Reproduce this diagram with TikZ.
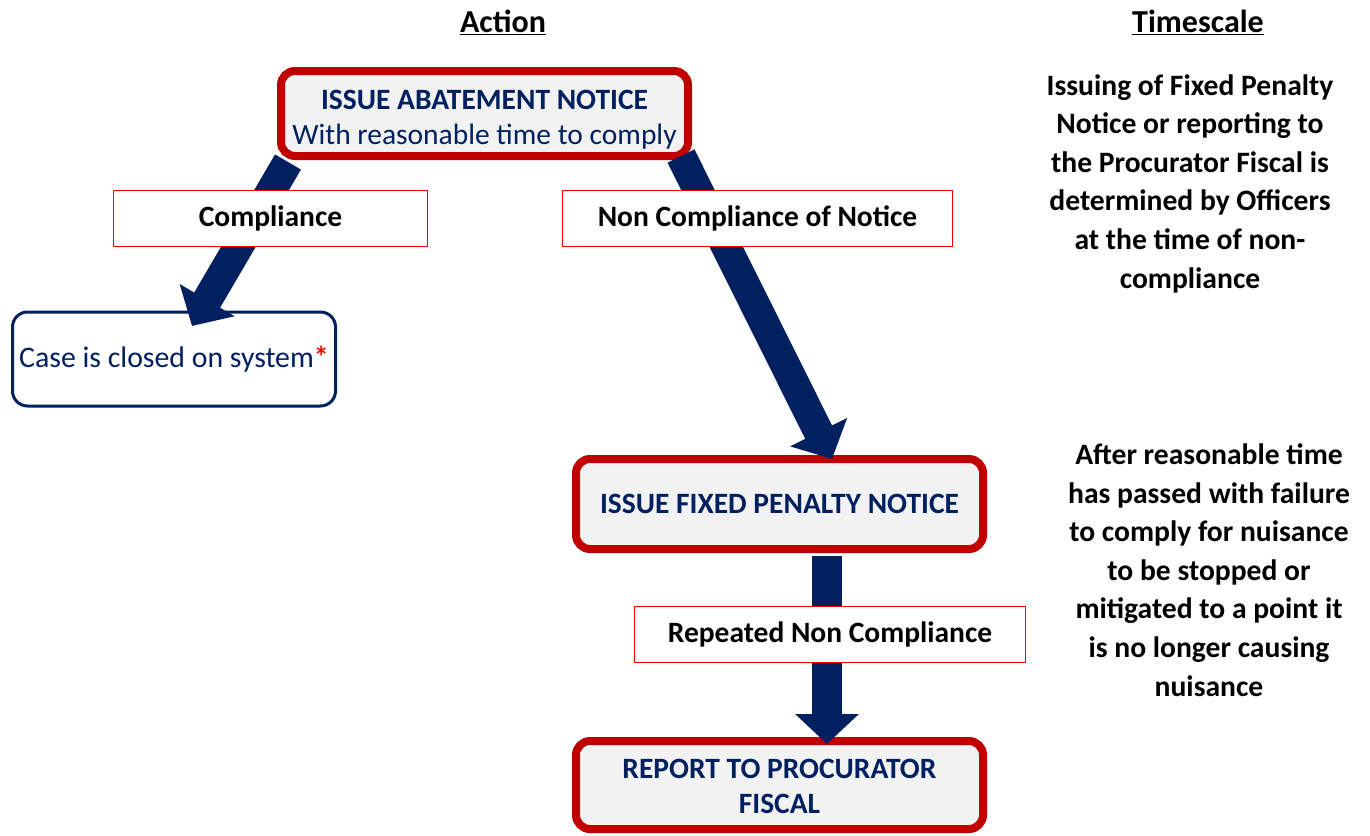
\documentclass[tikz,border=0pt]{standalone}
\usepackage{fontspec}
\setmainfont{Carlito}
\usetikzlibrary{arrows.meta}
\definecolor{navy}{HTML}{002060}
\definecolor{boxred}{HTML}{C00000}
\definecolor{lblred}{HTML}{FF0000}
\definecolor{boxfill}{HTML}{F2F2F2}
\begin{document}
\begin{tikzpicture}[x=1pt,y=-1pt,
  mainbox/.style={draw=boxred, line width=8pt, fill=boxfill, rounded corners=14pt,
    inner sep=0pt, text=navy, align=center, font=\fontsize{29.5}{35}\selectfont\bfseries},
  closedbox/.style={draw=navy, line width=3pt, fill=white, rounded corners=15pt,
    inner sep=0pt, text=navy, align=center, font=\fontsize{29.8}{35}\selectfont},
  lblbox/.style={draw=lblred, line width=1.5pt, fill=white, inner sep=0pt,
    text=black, font=\fontsize{29.5}{35}\selectfont\bfseries},
  header/.style={font=\fontsize{32}{38}\selectfont\bfseries, inner sep=0pt},
  timetext/.style={font=\fontsize{29.6}{38.6}\selectfont\bfseries, align=center, inner sep=0pt},
  bigarrow/.style={draw=navy, line width=30pt, -{Triangle[width=62pt,length=30pt]}}
]
\useasboundingbox (0,0) rectangle (1370,835);

% headers
\node[header] (hAction) at (503,22) {\underline{Action}};
\node[header] (hTime) at (1198,22) {\underline{Timescale}};

% main boxes
\node[mainbox, minimum width=407pt, minimum height=85pt] (abate) at (484.5,113.5)
  {\raisebox{-13pt}[0pt][0pt]{\begin{tabular}{@{}c@{}}ISSUE ABATEMENT NOTICE\\{\mdseries With reasonable time to comply}\end{tabular}}};
\node[closedbox, minimum width=323pt, minimum height=94pt] (case) at (174,359)
  {Case is closed on system{\color{lblred}\bfseries*}};
\node[mainbox, minimum width=407pt, minimum height=90pt] (penalty) at (779.5,504)
  {\raisebox{-9.5pt}[0pt][0pt]{ISSUE FIXED PENALTY NOTICE}};
\node[mainbox, minimum width=407pt, minimum height=88pt] (report) at (779.5,785)
  {\raisebox{-10pt}[0pt][0pt]{\begin{tabular}{@{}c@{}}REPORT TO PROCURATOR\\FISCAL\end{tabular}}};

% arrows
\draw[bigarrow] ([xshift=11pt,yshift=-2pt]abate.south west) -- ([xshift=18pt,yshift=-15.5pt]case.north);
\draw[bigarrow] ([xshift=-11pt,yshift=4pt]abate.south east) -- ([xshift=52.5pt,yshift=-4pt]penalty.north);
\draw[bigarrow] ([xshift=47.5pt,yshift=-3pt]penalty.south) -- ([xshift=47.5pt,yshift=-7pt]report.north);

% labels
\node[lblbox, minimum width=314pt, minimum height=56pt] (lcomp) at (270.5,218.5) {Compliance};
\node[lblbox, minimum width=390pt, minimum height=56pt] (lnon) at (757.5,218.5) {Non Compliance of Notice};
\node[lblbox, minimum width=391pt, minimum height=56pt] (lrep) at (830,634.5) {Repeated Non Compliance};

% timescale texts
\node[timetext] (t1) at (1190,183.5) {Issuing of Fixed Penalty\\Notice or reporting to\\the Procurator Fiscal is\\determined by Officers\\at the time of non-\\compliance};
\node[timetext] (t2) at (1209,570) {After reasonable time\\has passed with failure\\to comply for nuisance\\to be stopped or\\mitigated to a point it\\is no longer causing\\nuisance};
\end{tikzpicture}
\end{document}
